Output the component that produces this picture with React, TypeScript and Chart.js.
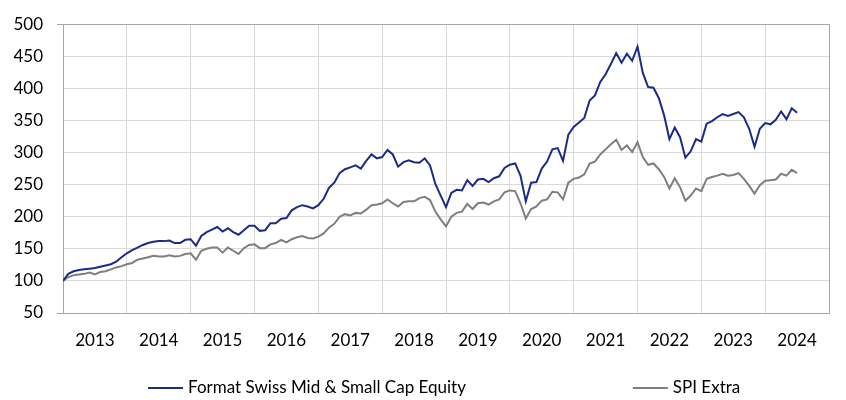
import React, { useEffect, useRef } from "react";
import { Chart, registerables } from "chart.js";

Chart.register(...registerables);

// Year labels (one per year band, Jan 2013 – Dec 2024)
const yearLabels = ["2013", "2014", "2015", "2016", "2017", "2018", "2019", "2020", "2021", "2022", "2023", "2024"];

// Month-end values, Dec 2012 (=100) to Jun 2024
const fundValues = [
  100, 111, 115, 117, 118, 119, 120, 122, 124, 126, 130, 137, 143,
  148, 152, 156, 159, 161, 162, 162, 163, 159, 159, 164, 165,
  155, 170, 176, 180, 184, 177, 182, 176, 172, 179, 186, 186,
  178, 179, 190, 190, 197, 198, 210, 215, 218, 216, 213, 218,
  228, 245, 253, 268, 274, 277, 280, 275, 287, 297, 291, 293,
  304, 297, 278, 285, 288, 285, 284, 291, 280, 251, 233, 215,
  237, 242, 241, 257, 248, 258, 259, 254, 260, 263, 276, 281,
  283, 264, 224, 253, 254, 275, 286, 305, 307, 287, 328, 340,
  347, 354, 381, 389, 410, 422, 438, 455, 440, 454, 443, 465,
  424, 402, 401, 385, 358, 321, 339, 324, 292, 302, 321, 317,
  345, 349, 355, 360, 357, 360, 363, 355, 337, 309, 337, 346,
  344, 351, 364, 352, 369, 362,
];

const indexValues = [
  100, 106, 109, 110, 111, 113, 110, 114, 115, 118, 121, 123, 126,
  128, 133, 135, 137, 139, 138, 138, 140, 138, 139, 142, 143,
  133, 147, 150, 152, 152, 144, 152, 147, 142, 151, 156, 157,
  151, 151, 157, 159, 164, 160, 165, 168, 170, 167, 166, 169,
  174, 183, 189, 200, 204, 202, 206, 205, 211, 218, 219, 221,
  227, 221, 216, 223, 224, 224, 229, 231, 226, 208, 196, 185,
  200, 206, 208, 220, 212, 221, 222, 219, 224, 227, 238, 241,
  240, 221, 197, 212, 216, 225, 227, 239, 238, 227, 253, 259,
  261, 266, 283, 286, 297, 305, 313, 320, 304, 311, 301, 316,
  293, 281, 283, 274, 262, 244, 260, 246, 225, 233, 244, 240,
  259, 262, 264, 267, 264, 265, 268, 259, 248, 236, 249, 256,
  257, 258, 267, 264, 273, 268,
];

const seriesNames = ["Format Swiss Mid & Small Cap Equity", "SPI Extra"];
const seriesColors = ["#1b2c86", "#7f7f7f"];

const yMin = 50;
const yMax = 500;
const yStep = 50;

const FONT = "Lato, 'Open Sans', sans-serif";
const GRID = "#d9d9d9";
const BORDER = "#a6a6a6";

const bottomLegend = {
  id: "bottomLegend",
  afterDraw(chart: any) {
    const ctx = chart.ctx;
    const w = chart.width;
    const starts = [w * 0.175, w * 0.748];
    const y = 388;
    ctx.save();
    ctx.font = `17px ${FONT}`;
    ctx.textBaseline = "middle";
    ctx.textAlign = "left";
    chart.data.datasets.forEach((ds: any, i: number) => {
      const x0 = starts[i];
      ctx.strokeStyle = ds.borderColor;
      ctx.lineWidth = 2;
      ctx.beginPath();
      ctx.moveTo(x0, y);
      ctx.lineTo(x0 + 35, y);
      ctx.stroke();
      ctx.fillStyle = "#000";
      ctx.fillText(ds.label, x0 + 40, y);
    });
    ctx.restore();
  },
};

export default function App() {
  const ref = useRef<HTMLCanvasElement | null>(null);

  useEffect(() => {
    if (!ref.current) return;
    Chart.defaults.font.family = FONT;
    const chart = new Chart(ref.current, {
      type: "line",
      data: {
        datasets: [
          {
            label: seriesNames[0],
            data: fundValues.map((v, i) => ({ x: i, y: v })),
            borderColor: seriesColors[0],
            backgroundColor: seriesColors[0],
            borderWidth: 2,
            pointRadius: 0,
            tension: 0,
          },
          {
            label: seriesNames[1],
            data: indexValues.map((v, i) => ({ x: i, y: v })),
            borderColor: seriesColors[1],
            backgroundColor: seriesColors[1],
            borderWidth: 2,
            pointRadius: 0,
            tension: 0,
          },
        ],
      },
      options: {
        animation: false,
        responsive: true,
        maintainAspectRatio: false,
        layout: { padding: { top: 16, right: 8, left: 0, bottom: 0 } },
        plugins: {
          legend: { display: false },
          tooltip: { enabled: false },
        },
        scales: {
          x: {
            type: "linear",
            min: 0,
            max: yearLabels.length * 12,
            afterFit: (s: any) => {
              s.height = 87;
            },
            border: { display: true, color: BORDER, width: 1 },
            grid: {
              drawTicks: false,
              color: (c: any) => {
                const v = c.tick ? c.tick.value : 0;
                if (v % 12 !== 0) return "transparent";
                if (v === yearLabels.length * 12) return BORDER;
                return GRID;
              },
              lineWidth: 1,
            },
            ticks: {
              stepSize: 6,
              autoSkip: false,
              maxRotation: 0,
              padding: 17,
              color: "#000",
              font: { size: 17 },
              callback: (v: any) => {
                const n = Number(v);
                return n % 12 === 6 ? yearLabels[(n - 6) / 12] : "";
              },
            },
          },
          y: {
            min: yMin,
            max: yMax,
            afterFit: (s: any) => {
              s.width = 63;
            },
            border: { display: true, color: BORDER, width: 1 },
            grid: {
              drawTicks: true,
              tickLength: 6,
              color: (c: any) => (c.tick && c.tick.value === yMax ? BORDER : GRID),
              tickColor: (c: any) =>
                c.tick && (c.tick.value === yMax || c.tick.value === yMin) ? BORDER : "transparent",
              lineWidth: 1,
            },
            ticks: {
              stepSize: yStep,
              padding: 14,
              color: "#000",
              font: { size: 17 },
            },
          },
        },
      },
      plugins: [bottomLegend],
    });
    return () => chart.destroy();
  }, []);

  return (
    <div style={{ position: "fixed", left: 0, top: 0, width: 846, height: 400, background: "#fff" }}>
      <canvas ref={ref} />
    </div>
  );
}
